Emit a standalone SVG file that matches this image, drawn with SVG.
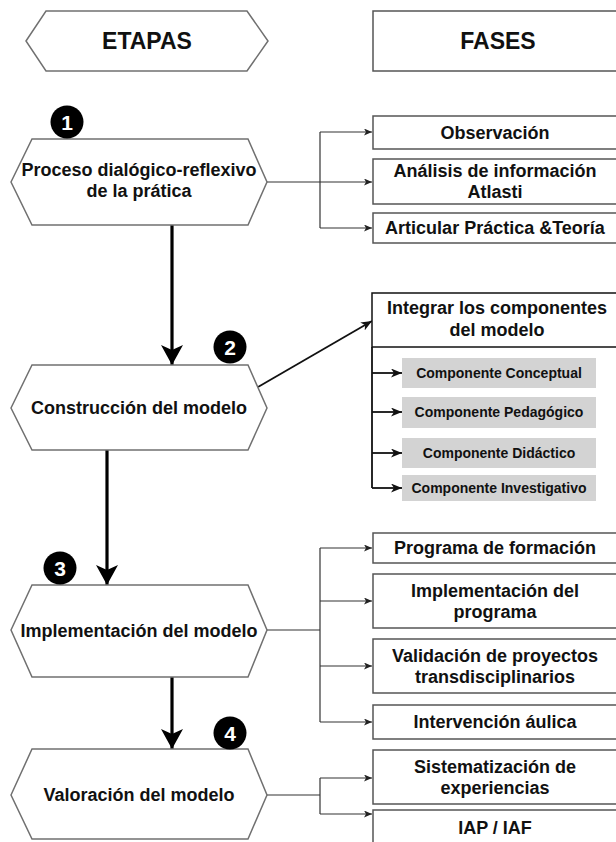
<svg xmlns="http://www.w3.org/2000/svg" width="616" height="842" viewBox="0 0 616 842">
<style>
.hex{fill:#fff;stroke:#707070;stroke-width:1.5}
.box{fill:#fff;stroke:#555;stroke-width:1.5}
.gray{fill:#d3d3d3;stroke:none}
.t{font-family:"Liberation Sans",Arial,Helvetica,sans-serif;font-weight:bold;fill:#111;text-anchor:middle}
.h{font-size:23px}
.l{font-size:18px}
.s{font-size:14px}
.num{font-family:"Liberation Sans",Arial,sans-serif;font-weight:bold;font-size:21px;fill:#fff;text-anchor:middle}
.thin{fill:none;stroke:#333;stroke-width:1.2}
.mid{fill:none;stroke:#111;stroke-width:1.8}
.thick{fill:none;stroke:#000;stroke-width:3.2}
</style>
<defs>
<marker id="aS" viewBox="0 0 8 7" refX="8" refY="3.5" markerWidth="8" markerHeight="7" markerUnits="userSpaceOnUse" orient="auto"><path d="M0,0 L8,3.5 L0,7 L2,3.5 Z" fill="#222"/></marker>
<marker id="aM" viewBox="0 0 11 9" refX="11" refY="4.5" markerWidth="11" markerHeight="9" markerUnits="userSpaceOnUse" orient="auto"><path d="M0,0 L11,4.5 L0,9 L3,4.5 Z" fill="#111"/></marker>
<marker id="aL" viewBox="0 0 20 22" refX="20" refY="11" markerWidth="20" markerHeight="22" markerUnits="userSpaceOnUse" orient="auto"><path d="M0,0 L20,11 L0,22 L5,11 Z" fill="#000"/></marker>
</defs>

<g id="etapas">
<polygon class="hex" points="26,41 46,11 247,11 268,41 247,71 46,71"/>
<text class="t h" x="147" y="49">ETAPAS</text>
</g>
<g id="fases">
<rect class="box" x="373" y="11" width="260" height="60"/>
<text class="t h" x="498" y="49">FASES</text>
</g>

<g id="connectors">
<path class="thin" d="M267,182 H320"/>
<path class="thin" d="M320,132 V228"/>
<path class="thin" d="M320,132 H372" marker-end="url(#aS)"/>
<path class="thin" d="M320,182 H372" marker-end="url(#aS)"/>
<path class="thin" d="M320,228 H372" marker-end="url(#aS)"/>
<path class="thick" d="M172,225 V365" marker-end="url(#aL)"/>
<path class="mid" d="M258,387 L372,321" marker-end="url(#aM)"/>
<path class="mid" d="M372,347 V488"/>
<path class="mid" d="M372,373 H402" marker-end="url(#aM)"/>
<path class="mid" d="M372,412 H402" marker-end="url(#aM)"/>
<path class="mid" d="M372,453 H402" marker-end="url(#aM)"/>
<path class="mid" d="M372,488 H402" marker-end="url(#aM)"/>
<path class="thick" d="M107,450 V585" marker-end="url(#aL)"/>
<path class="thin" d="M267,630 H320"/>
<path class="thin" d="M320,548 V722"/>
<path class="thin" d="M320,548 H372" marker-end="url(#aS)"/>
<path class="thin" d="M320,601 H372" marker-end="url(#aS)"/>
<path class="thin" d="M320,666 H372" marker-end="url(#aS)"/>
<path class="thin" d="M320,722 H372" marker-end="url(#aS)"/>
<path class="thick" d="M172,677 V749" marker-end="url(#aL)"/>
<path class="thin" d="M267,795 H320"/>
<path class="thin" d="M320,778 V814"/>
<path class="thin" d="M320,778 H372" marker-end="url(#aS)"/>
<path class="thin" d="M320,814 H372" marker-end="url(#aS)"/>
</g>

<g id="etapa1">
<polygon class="hex" points="11,182 32,139 248,139 267,182 248,225 32,225"/>
<text class="t l" x="139" y="176">Proceso dialógico-reflexivo</text>
<text class="t l" x="139" y="197">de la prática</text>
</g>
<g id="badge1"><circle cx="67" cy="122" r="16.5" fill="#000"/><text class="num" x="67" y="130">1</text></g>

<g id="fase-observacion"><rect class="box" x="373" y="116" width="260" height="33"/><text class="t l" x="495" y="139">Observación</text></g>
<g id="fase-analisis"><rect class="box" x="373" y="159" width="260" height="45"/><text class="t l" x="495" y="177">Análisis de información</text><text class="t l" x="495" y="198">Atlasti</text></g>
<g id="fase-articular"><rect class="box" x="373" y="213" width="260" height="30"/><text class="t l" x="495" y="234">Articular Práctica &amp;Teoría</text></g>

<g id="etapa2">
<polygon class="hex" points="11,408 32,365 248,365 267,408 248,450 32,450"/>
<text class="t l" x="139" y="414">Construcción del modelo</text>
</g>
<g id="badge2"><circle cx="230" cy="347" r="16.5" fill="#000"/><text class="num" x="230" y="355">2</text></g>

<g id="integrar">
<rect x="372" y="293" width="260" height="54" fill="#fff" stroke="#111" stroke-width="1.5"/>
<text class="t l" x="497" y="314">Integrar los componentes</text>
<text class="t l" x="497" y="336">del modelo</text>
</g>
<g id="comp-conceptual"><rect class="gray" x="402" y="358" width="194" height="30"/><text class="t s" x="499" y="378">Componente Conceptual</text></g>
<g id="comp-pedagogico"><rect class="gray" x="402" y="397" width="194" height="31"/><text class="t s" x="499" y="417">Componente Pedagógico</text></g>
<g id="comp-didactico"><rect class="gray" x="402" y="438" width="194" height="30"/><text class="t s" x="499" y="458">Componente Didáctico</text></g>
<g id="comp-investigativo"><rect class="gray" x="402" y="475" width="194" height="26"/><text class="t s" x="499" y="493">Componente Investigativo</text></g>

<g id="etapa3">
<polygon class="hex" points="11,630 32,585 248,585 267,630 248,677 32,677"/>
<text class="t l" x="139" y="637">Implementación del modelo</text>
</g>
<g id="badge3"><circle cx="60" cy="568" r="16.5" fill="#000"/><text class="num" x="60" y="576">3</text></g>

<g id="fase-programa"><rect class="box" x="373" y="533" width="260" height="30"/><text class="t l" x="495" y="554">Programa de formación</text></g>
<g id="fase-implementacion"><rect class="box" x="373" y="574" width="260" height="54"/><text class="t l" x="495" y="597">Implementación del</text><text class="t l" x="495" y="618">programa</text></g>
<g id="fase-validacion"><rect class="box" x="373" y="639" width="260" height="54"/><text class="t l" x="495" y="662">Validación de proyectos</text><text class="t l" x="495" y="683">transdisciplinarios</text></g>
<g id="fase-intervencion"><rect class="box" x="373" y="705" width="260" height="34"/><text class="t l" x="495" y="728">Intervención áulica</text></g>

<g id="etapa4">
<polygon class="hex" points="11,795 32,749 248,749 267,795 248,839 32,839"/>
<text class="t l" x="139" y="801">Valoración del modelo</text>
</g>
<g id="badge4"><circle cx="230" cy="733" r="16.5" fill="#000"/><text class="num" x="230" y="741">4</text></g>

<g id="fase-sistematizacion"><rect class="box" x="373" y="750" width="260" height="54"/><text class="t l" x="495" y="773">Sistematización de</text><text class="t l" x="495" y="794">experiencias</text></g>
<g id="fase-iap"><rect class="box" x="373" y="810" width="260" height="45"/><text class="t l" x="495" y="834">IAP / IAF</text></g>
</svg>
